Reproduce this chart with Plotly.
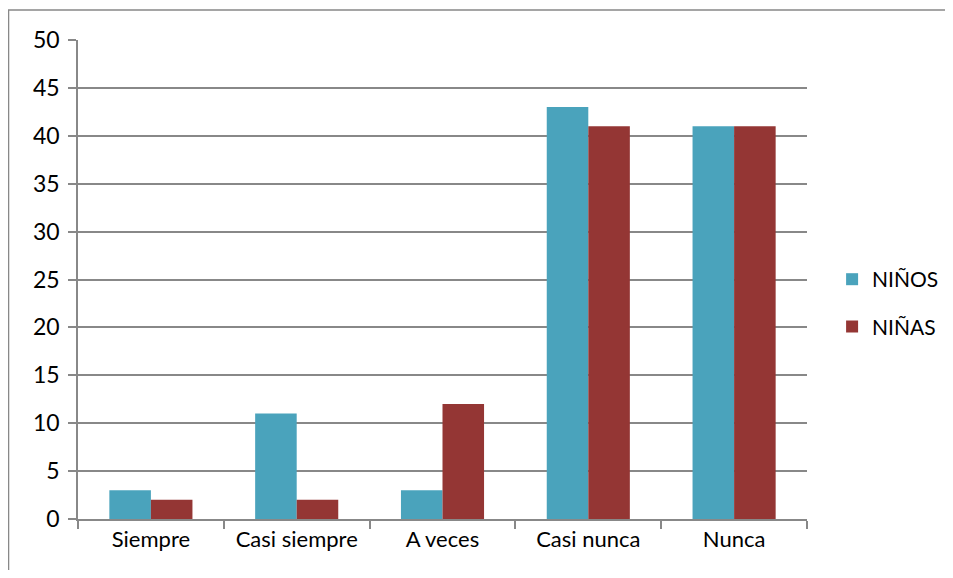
import plotly.graph_objects as go

categories = ["Siempre", "Casi siempre", "A veces", "Casi nunca", "Nunca"]
ninos = [3, 11, 3, 43, 41]
ninas = [2, 2, 12, 41, 41]
y_ticks = [0, 5, 10, 15, 20, 25, 30, 35, 40, 45, 50]

FONT = "Lato, Open Sans, sans-serif"
fig = go.Figure()
fig.add_trace(go.Bar(x=categories, y=ninos, name="NIÑOS", marker_color="#4AA3BC",
                     marker_line_width=0, legendgroup="a"))
fig.add_trace(go.Bar(x=categories, y=ninas, name="NIÑAS", marker_color="#943634",
                     marker_line_width=0, legendgroup="b"))

fig.update_layout(
    width=937, height=562,
    margin=dict(l=70, r=138, t=32, b=51),
    paper_bgcolor="white", plot_bgcolor="white",
    barmode="group", bargap=0.43, bargroupgap=0,
    font=dict(family=FONT, size=23, color="black"),
    legend=dict(xref="container", yref="container", x=0.8795, y=0.475,
                xanchor="left", yanchor="middle",
                tracegroupgap=17, font=dict(size=21), itemwidth=30,
                bgcolor="rgba(0,0,0,0)"),
    showlegend=True,
)
fig.update_xaxes(showline=True, linecolor="#888", linewidth=1.5,
                 ticks="outside", ticklen=8, tickcolor="#888", tickwidth=1.5,
                 tickson="boundaries", showgrid=False, mirror=False,
                 tickfont=dict(size=22))
fig.update_yaxes(range=[0, 50], tickvals=y_ticks, showline=True, linecolor="#888",
                 linewidth=1.5, ticks="outside", ticklen=8, tickcolor="#888", tickwidth=1.5,
                 showgrid=True, gridcolor="#888", gridwidth=1.5, zeroline=False,
                 tickfont=dict(size=23), ticklabelstandoff=4)
fig.add_shape(type="rect", xref="paper", yref="paper",
              x0=-0.0953, x1=1.3, y0=-0.3, y1=1.0626,
              line=dict(color="#888", width=1.5), fillcolor="rgba(0,0,0,0)", layer="below")
fig.write_html("out.html")
